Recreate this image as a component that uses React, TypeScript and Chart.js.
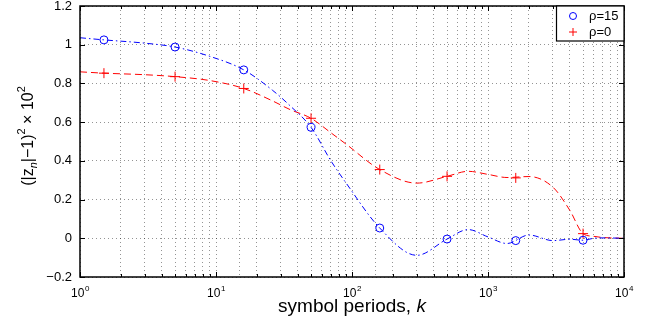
import React, { useEffect, useRef } from "react";
import { Chart, registerables } from "chart.js";

Chart.register(...registerables);

// ---- data ----
const curveX = [1, 1.5, 3, 5, 9, 16, 26, 35, 50, 70, 91, 160, 300, 500, 715, 1000, 1380, 2000, 3000, 4000, 5000, 6000, 7000, 10000];
const blueCurve = [1.036, 1.025, 1.008, 0.988, 0.94, 0.87, 0.765, 0.685, 0.573, 0.4, 0.283, 0.053, -0.088, -0.004, 0.045, 0.007, -0.027, 0.017, -0.012, -0.005, -0.01, 0.0, 0.002, 0.0];
const redCurve = [0.86, 0.853, 0.845, 0.835, 0.815, 0.774, 0.71, 0.665, 0.62, 0.545, 0.485, 0.355, 0.285, 0.32, 0.346, 0.33, 0.314, 0.319, 0.264, 0.144, 0.024, 0.01, 0.004, 0.0];

const markerX = [1.5, 5, 16, 50, 160, 500, 1600, 5000];
const blueMarkers = [1.025, 0.988, 0.87, 0.573, 0.053, -0.004, -0.012, -0.01];
const redMarkers = [0.853, 0.835, 0.774, 0.62, 0.355, 0.32, 0.312, 0.024];

const seriesLabels = ["ρ=15", "ρ=0"];
const xPowers = [0, 1, 2, 3, 4];
const yTicks = [-0.2, 0, 0.2, 0.4, 0.6, 0.8, 1, 1.2];
const xTitle = "symbol periods, ";
const xTitleItalic = "k";

const FONT = '"Liberation Sans", Arial, Helvetica, sans-serif';
const BLUE = "#0000ff";
const RED = "#ff0000";

const pts = (xs: number[], ys: number[]) => xs.map((x, i) => ({ x, y: ys[i] }));

const decorPlugin = {
  id: "decor",
  afterDatasetsDraw(chart: any) {
    const { ctx, chartArea: a, scales } = chart;
    const xs = scales.x;
    const ys = scales.y;
    ctx.save();
    ctx.strokeStyle = "#000";
    ctx.lineWidth = 1;
    ctx.setLineDash([]);
    for (let d = 0; d <= 4; d++) {
      for (let m = 1; m <= 9; m++) {
        const v = m * Math.pow(10, d);
        if (v > 10000) break;
        const px = Math.round(xs.getPixelForValue(v)) + 0.5;
        const len = m === 1 ? 5 : 3;
        ctx.beginPath();
        ctx.moveTo(px, a.bottom);
        ctx.lineTo(px, a.bottom - len);
        ctx.moveTo(px, a.top);
        ctx.lineTo(px, a.top + len);
        ctx.stroke();
      }
    }
    yTicks.forEach((v) => {
      const py = Math.round(ys.getPixelForValue(v)) + 0.5;
      ctx.beginPath();
      ctx.moveTo(a.left, py);
      ctx.lineTo(a.left + 5, py);
      ctx.moveTo(a.right, py);
      ctx.lineTo(a.right - 5, py);
      ctx.stroke();
    });
    ctx.lineWidth = 1.5;
    ctx.strokeRect(a.left, a.top, a.right - a.left, a.bottom - a.top);

    ctx.fillStyle = "#000";
    ctx.textBaseline = "alphabetic";
    ctx.textAlign = "left";
    xPowers.forEach((p) => {
      const px = xs.getPixelForValue(Math.pow(10, p));
      ctx.font = `12px ${FONT}`;
      const w1 = ctx.measureText("10").width;
      ctx.font = `8px ${FONT}`;
      const w2 = ctx.measureText(String(p)).width;
      const x0 = px - (w1 + w2) / 2;
      ctx.font = `12px ${FONT}`;
      ctx.fillText("10", x0, 297);
      ctx.font = `8px ${FONT}`;
      ctx.fillText(String(p), x0 + w1 + 0.5, 291);
    });

    ctx.font = `19px ${FONT}`;
    const tw1 = ctx.measureText(xTitle).width;
    ctx.font = `italic 19px ${FONT}`;
    const tw2 = ctx.measureText(xTitleItalic).width;
    const cx = (a.left + a.right) / 2;
    const tx0 = cx - (tw1 + tw2) / 2;
    ctx.font = `19px ${FONT}`;
    ctx.fillText(xTitle, tx0, 312);
    ctx.font = `italic 19px ${FONT}`;
    ctx.fillText(xTitleItalic, tx0 + tw1, 312);

    const segs = [
      { t: "(|z", f: `16px ${FONT}`, dy: 0 },
      { t: "n", f: `italic 11px ${FONT}`, dy: 4 },
      { t: "|−1)", f: `16px ${FONT}`, dy: 0 },
      { t: "2", f: `11px ${FONT}`, dy: -8 },
      { t: " × 10", f: `16px ${FONT}`, dy: 0 },
      { t: "2", f: `11px ${FONT}`, dy: -8 },
    ];
    let total = 0;
    const widths = segs.map((s) => {
      ctx.font = s.f;
      const w = ctx.measureText(s.t).width;
      total += w;
      return w;
    });
    ctx.save();
    ctx.translate(33, 136);
    ctx.rotate(-Math.PI / 2);
    let cur = -total / 2;
    segs.forEach((s, i) => {
      ctx.font = s.f;
      ctx.fillText(s.t, cur, s.dy);
      cur += widths[i];
    });
    ctx.restore();

    const lx = 556.5, ly = a.top, lw = a.right - 556.5, lh = 35;
    ctx.fillStyle = "#fff";
    ctx.fillRect(lx, ly, lw, lh);
    ctx.lineWidth = 1.2;
    ctx.strokeStyle = "#000";
    ctx.strokeRect(lx, ly, lw, lh);
    ctx.lineWidth = 1;
    ctx.strokeStyle = BLUE;
    ctx.beginPath();
    ctx.arc(573, 16, 3.5, 0, Math.PI * 2);
    ctx.stroke();
    ctx.strokeStyle = RED;
    ctx.beginPath();
    ctx.moveTo(569, 32);
    ctx.lineTo(577, 32);
    ctx.moveTo(573, 28);
    ctx.lineTo(573, 36);
    ctx.stroke();
    ctx.fillStyle = "#000";
    ctx.font = `13px ${FONT}`;
    ctx.textBaseline = "middle";
    ctx.fillText(seriesLabels[0], 589, 16.5);
    ctx.fillText(seriesLabels[1], 589, 32.5);
    ctx.restore();
  },
};

export default function App() {
  const ref = useRef<HTMLCanvasElement | null>(null);
  useEffect(() => {
    if (!ref.current) return;
    const chart = new Chart(ref.current, {
      type: "line",
      data: {
        datasets: [
          {
            label: seriesLabels[0] + " curve",
            data: pts(curveX, blueCurve),
            borderColor: BLUE,
            borderWidth: 1,
            borderDash: [6, 3, 1.5, 3],
            pointRadius: 0,
            cubicInterpolationMode: "monotone",
            fill: false,
          },
          {
            label: seriesLabels[1] + " curve",
            data: pts(curveX, redCurve),
            borderColor: RED,
            borderWidth: 1,
            borderDash: [7, 4],
            pointRadius: 0,
            cubicInterpolationMode: "monotone",
            fill: false,
          },
          {
            label: seriesLabels[0],
            data: pts(markerX, blueMarkers),
            showLine: false,
            pointStyle: "circle",
            pointRadius: 4,
            pointBorderWidth: 1,
            pointBorderColor: BLUE,
            pointBackgroundColor: "rgba(0,0,0,0)",
          },
          {
            label: seriesLabels[1],
            data: pts(markerX, redMarkers),
            showLine: false,
            pointStyle: "cross",
            pointRadius: 5,
            pointBorderWidth: 1,
            pointBorderColor: RED,
            pointBackgroundColor: RED,
          },
        ],
      },
      options: {
        animation: false,
        responsive: false,
        devicePixelRatio: 1,
        layout: { padding: { top: 5, right: 31, left: 0, bottom: 0 } },
        plugins: { legend: { display: false }, tooltip: { enabled: false } },
        scales: {
          x: {
            type: "logarithmic",
            min: 1,
            max: 10000,
            border: { display: false, dash: [1, 3] },
            grid: { color: "rgba(0,0,0,0.42)", lineWidth: 1, drawTicks: false },
            ticks: { display: false, autoSkip: false },
            afterFit: (s: any) => {
              s.height = 52;
              s.paddingLeft = 0;
              s.paddingRight = 0;
            },
          },
          y: {
            type: "linear",
            min: -0.2,
            max: 1.2,
            border: { display: false, dash: [1, 3] },
            grid: { color: "rgba(0,0,0,0.42)", lineWidth: 1, drawTicks: false },
            ticks: {
              stepSize: 0.2,
              padding: 8,
              color: "#000",
              font: { family: FONT, size: 13 },
              callback: (v: any) => {
                const r = Math.round(Number(v) * 10) / 10;
                return r < 0 ? "−" + Math.abs(r) : String(r);
              },
            },
            afterFit: (s: any) => {
              s.width = 80;
              s.paddingTop = 0;
              s.paddingBottom = 0;
            },
          },
        },
      },
      plugins: [decorPlugin],
    });
    return () => chart.destroy();
  }, []);
  return (
    <div style={{ position: "fixed", left: 0, top: 0, width: 655, height: 329, background: "#fff" }}>
      <canvas ref={ref} width={655} height={329} style={{ width: 655, height: 329, display: "block" }} />
    </div>
  );
}
